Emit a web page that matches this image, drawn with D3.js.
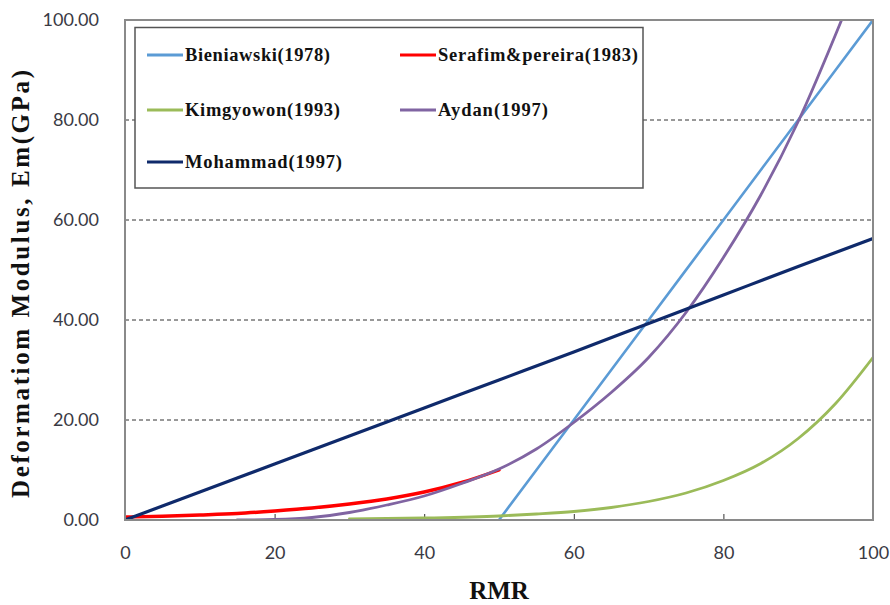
<!DOCTYPE html>
<html>
<head>
<meta charset="utf-8">
<script src="https://cdn.jsdelivr.net/npm/d3@7"></script>
<style>
  body { margin: 0; background: #fff; }
  svg { display: block; }
</style>
</head>
<body>
<div id="chart"></div>
<script>
// values
const rmrBieniawski = [50, 60, 70, 80, 90, 100];
const emBieniawski = [0, 20, 40, 60, 80, 100];

const rmrSerafim = [0, 5, 10, 15, 20, 25, 30, 35, 40, 45, 50];
const emSerafim = [0.6, 0.75, 1.0, 1.3, 1.8, 2.4, 3.2, 4.2, 5.6, 7.5, 10];

const rmrKim = [30, 40, 50, 55, 60, 65, 70, 75, 80, 85, 90, 95, 100];
const emKim = [0.2, 0.4, 0.8, 1.2, 1.7, 2.5, 3.7, 5.4, 7.9, 11.3, 16.3, 23.3, 32.5];

const rmrAydan = [15, 20, 25, 30, 35, 40, 45, 50, 55, 60, 65, 70, 75, 80, 85, 90, 95.8];
const emAydan = [0, 0.1, 0.5, 1.5, 3, 4.8, 7.3, 10.2, 14.2, 19.5, 25.5, 32.5, 41.5, 52.5, 65, 79.7, 100];

const rmrMohammad = [0, 5, 10, 20, 30, 40, 50, 60, 70, 80, 90, 100];
const emMohammad = [0, 2.8, 5.6, 11.2, 16.8, 22.4, 28, 33.6, 39.3, 45, 50.7, 56.3];

const xTicks = [0, 20, 40, 60, 80, 100];
const yTicks = [0, 20, 40, 60, 80, 100];
const gridValues = [20, 40, 60, 80];

const seriesNames = ["Bieniawski(1978)", "Serafim&pereira(1983)", "Kimgyowon(1993)", "Aydan(1997)", "Mohammad(1997)"];
const seriesColors = ["#5b9bd5", "#ff0000", "#9bbb59", "#8064a2", "#0f2a6b"];

const series = [
  {name: seriesNames[0], color: seriesColors[0], xs: rmrBieniawski, ys: emBieniawski, w: 2.6},
  {name: seriesNames[1], color: seriesColors[1], xs: rmrSerafim, ys: emSerafim, w: 3.4},
  {name: seriesNames[2], color: seriesColors[2], xs: rmrKim, ys: emKim, w: 2.8},
  {name: seriesNames[3], color: seriesColors[3], xs: rmrAydan, ys: emAydan, w: 2.8},
  {name: seriesNames[4], color: seriesColors[4], xs: rmrMohammad, ys: emMohammad, w: 3.2}
];

const width = 890, height = 605;
const plotL = 125, plotR = 873, plotT = 20, plotB = 520;

const svg = d3.select("#chart").append("svg")
    .attr("width", width)
    .attr("height", height);

const x = d3.scaleLinear().domain([0, 100]).range([plotL, plotR]);
const y = d3.scaleLinear().domain([0, 100]).range([plotB, plotT]);

// dashed grid
svg.append("g")
  .selectAll("line")
  .data(gridValues)
  .join("line")
    .attr("x1", plotL).attr("x2", plotR)
    .attr("y1", d => y(d)).attr("y2", d => y(d))
    .attr("stroke", "#333")
    .attr("stroke-width", 1)
    .attr("stroke-dasharray", "4,3");

svg.append("clipPath").attr("id", "plotClip")
  .append("rect")
    .attr("x", plotL).attr("y", plotT)
    .attr("width", plotR - plotL).attr("height", plotB - plotT);

// x ticks point inward
const xAxis = svg.append("g")
    .attr("transform", `translate(0,${plotB})`)
    .call(d3.axisBottom(x).tickValues(xTicks).tickSize(-6).tickPadding(26));
xAxis.select(".domain").remove();
xAxis.selectAll(".tick line").attr("stroke", "#333");
xAxis.selectAll(".tick text")
    .attr("font-family", "Lato, 'Open Sans', sans-serif")
    .attr("font-size", 18)
    .attr("fill", "#3a3a44");

const yAxis = svg.append("g")
    .attr("transform", `translate(${plotL},0)`)
    .call(d3.axisLeft(y).tickValues(yTicks).tickSize(0).tickPadding(26).tickFormat(d3.format(".2f")));
yAxis.select(".domain").remove();
yAxis.selectAll(".tick text")
    .attr("font-family", "Lato, 'Open Sans', sans-serif")
    .attr("font-size", 18)
    .attr("fill", "#3a3a44");

// legend box (drawn before lines, covers grid)
const lg = svg.append("g");
lg.append("rect")
    .attr("x", 135).attr("y", 27.5)
    .attr("width", 508).attr("height", 160.5)
    .attr("fill", "#fff")
    .attr("stroke", "#555")
    .attr("stroke-width", 1.5);

const legendPos = [
  {lx: 147, ly: 55, tl: 145},
  {lx: 400, ly: 55, tl: 200},
  {lx: 147, ly: 110, tl: 155},
  {lx: 400, ly: 110, tl: 110},
  {lx: 147, ly: 162, tl: 157}
];

series.forEach((s, i) => {
  const p = legendPos[i];
  lg.append("line")
      .attr("x1", p.lx).attr("x2", p.lx + 36)
      .attr("y1", p.ly).attr("y2", p.ly)
      .attr("stroke", s.color)
      .attr("stroke-width", 3);
  lg.append("text")
      .attr("x", p.lx + 38).attr("y", p.ly)
      .attr("dy", "0.35em")
      .attr("font-family", "'Liberation Serif', 'Times New Roman', serif")
      .attr("font-weight", "bold")
      .attr("font-size", 18.5)
      .attr("fill", "#111")
      .attr("textLength", p.tl)
      .attr("lengthAdjust", "spacing")
      .text(s.name);
});

// lines
const line = d3.line()
    .x(d => x(d[0]))
    .y(d => y(d[1]))
    .curve(d3.curveMonotoneX);

const lines = svg.append("g").attr("clip-path", "url(#plotClip)");
series.forEach(s => {
  const pts = s.xs.map((v, i) => [v, s.ys[i]]);
  lines.append("path")
      .datum(pts)
      .attr("d", line)
      .attr("fill", "none")
      .attr("stroke", s.color)
      .attr("stroke-width", s.w)
      .attr("stroke-linejoin", "round")
      .attr("stroke-linecap", "round");
});

// plot frame
svg.append("rect")
    .attr("x", plotL).attr("y", plotT)
    .attr("width", plotR - plotL).attr("height", plotB - plotT)
    .attr("fill", "none")
    .attr("stroke", "#8a8a8a")
    .attr("stroke-width", 2);

// axis titles
svg.append("text")
    .attr("x", 499).attr("y", 599)
    .attr("text-anchor", "middle")
    .attr("font-family", "'Liberation Serif', 'Times New Roman', serif")
    .attr("font-weight", "bold")
    .attr("font-size", 25)
    .attr("fill", "#111")
    .text("RMR");

svg.append("text")
    .attr("transform", "translate(29,284) rotate(-90)")
    .attr("text-anchor", "middle")
    .attr("font-family", "'Liberation Serif', 'Times New Roman', serif")
    .attr("font-weight", "bold")
    .attr("font-size", 25)
    .attr("fill", "#111")
    .attr("textLength", 428)
    .attr("lengthAdjust", "spacing")
    .text("Deformatiom Modulus,  Em(GPa)");
</script>
</body>
</html>
